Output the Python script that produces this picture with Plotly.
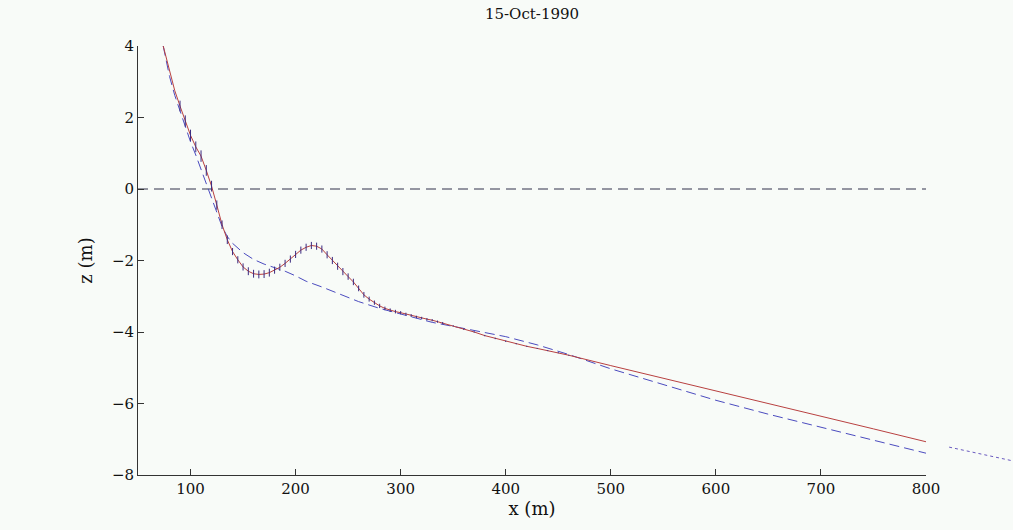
import plotly.graph_objects as go

# Measured profile (every 5 m where error bars exist)
x_meas = [74, 80, 85, 90, 95, 100, 105, 110, 115, 120, 125, 130, 135, 140, 145, 150,
          155, 160, 165, 170, 175, 180, 185, 190, 195, 200, 205, 210, 215, 220, 225,
          230, 235, 240, 245, 250, 255, 260, 265, 270, 275, 280, 285, 290, 295, 300,
          305, 310, 315, 320, 325, 330, 335, 340, 350, 360, 370, 380, 390, 400, 410,
          420, 430, 440, 450, 460]
z_meas = [4.0, 3.3, 2.75, 2.32, 1.9, 1.5, 1.18, 0.92, 0.52, 0.08, -0.45, -1.0, -1.42,
          -1.75, -1.98, -2.18, -2.3, -2.37, -2.39, -2.38, -2.34, -2.27, -2.19, -2.08,
          -1.96, -1.83, -1.71, -1.63, -1.58, -1.6, -1.68, -1.84, -2.0, -2.16, -2.31,
          -2.45, -2.6, -2.78, -2.96, -3.08, -3.18, -3.27, -3.34, -3.39, -3.43, -3.46,
          -3.5, -3.54, -3.58, -3.61, -3.64, -3.67, -3.71, -3.75, -3.83, -3.92, -4.0,
          -4.1, -4.18, -4.26, -4.33, -4.4, -4.46, -4.52, -4.58, -4.65]
z_err = [0.0, 0.0, 0.0, 0.15, 0.16, 0.16, 0.15, 0.16, 0.15, 0.15, 0.13, 0.12, 0.12,
         0.1, 0.1, 0.1, 0.11, 0.11, 0.11, 0.11, 0.11, 0.1, 0.1, 0.1, 0.1, 0.1, 0.1,
         0.1, 0.1, 0.1, 0.1, 0.1, 0.1, 0.1, 0.1, 0.09, 0.09, 0.08, 0.08, 0.07, 0.06,
         0.06, 0.05, 0.05, 0.05, 0.045, 0.04, 0.04, 0.035, 0.035, 0.03, 0.03, 0.03,
         0.03, 0.02, 0.02, 0.02, 0.02, 0.02, 0.02, 0.015, 0.015, 0.015, 0.015, 0.015,
         0.015]

# Offshore part of measured profile
x_off = [460, 500, 550, 600, 650, 700, 750, 800]
z_off = [-4.65, -4.94, -5.29, -5.64, -6.0, -6.35, -6.71, -7.07]

# Extension beyond the plotted range (dotted)
x_ext = [822, 885]
z_ext = [-7.22, -7.62]

# Equilibrium profile (dashed)
x_eq = [74, 80, 85, 90, 95, 100, 105, 110, 115, 120, 125, 130, 135, 140, 150, 160, 170,
        180, 190, 200, 210, 225, 240, 260, 280, 300, 330, 360, 400, 430, 460, 500, 550,
        600, 650, 700, 750, 800]
z_eq = [4.0, 3.15, 2.62, 2.18, 1.75, 1.32, 0.95, 0.55, 0.1, -0.3, -0.7, -1.05, -1.33,
        -1.52, -1.78, -1.97, -2.1, -2.2, -2.3, -2.43, -2.58, -2.74, -2.92, -3.15, -3.34,
        -3.5, -3.73, -3.9, -4.13, -4.36, -4.63, -5.03, -5.48, -5.91, -6.3, -6.67,
        -7.03, -7.39]

x_range = [50, 800]
y_range = [-8, 4]
x_ticks = [100, 200, 300, 400, 500, 600, 700, 800]
y_ticks = [-8, -6, -4, -2, 0, 2, 4]
sea_level = 0

FONT = "DejaVu Serif"
W, H = 1013, 530
ML, MT, MB = 138, 46, 55
plot_w = W - ML
axes_w = 926 - ML
dom = axes_w / plot_w
px_per_unit = axes_w / (x_range[1] - x_range[0])
x2_range = [x_range[0], x_range[0] + plot_w / px_per_unit]
BG = "#f8fbf8"

fig = go.Figure()

fig.add_trace(go.Scatter(x=x_range, y=[sea_level, sea_level], mode="lines",
                         line=dict(color="#30304a", width=1, dash="10px,6px"),
                         hoverinfo="skip"))
fig.add_trace(go.Scatter(x=x_eq, y=z_eq, mode="lines",
                         line=dict(color="#4b4bbf", width=1, dash="10px,5px")))
fig.add_trace(go.Scatter(x=x_meas + x_off[1:], y=z_meas + z_off[1:], mode="lines",
                         line=dict(color="#b84040", width=1)))
fig.add_trace(go.Scatter(x=x_meas, y=z_meas, mode="markers",
                         marker=dict(size=1, color="rgba(0,0,0,0)"),
                         error_y=dict(type="data", array=z_err, visible=True,
                                      color="#3a2a80", thickness=1, width=0)))
fig.add_trace(go.Scatter(x=x_ext, y=z_ext, mode="lines", xaxis="x2", yaxis="y",
                         line=dict(color="#6a5ac0", width=1, dash="dot")))

fig.update_layout(
    width=W, height=H,
    margin=dict(l=ML, r=0, t=MT, b=MB, autoexpand=False),
    paper_bgcolor=BG, plot_bgcolor="rgba(0,0,0,0)",
    showlegend=False,
    font=dict(family=FONT, size=15, color="#111"),
    title=dict(text="15-Oct-1990", x=(axes_w / 2) / plot_w, xref="paper",
               xanchor="center", y=1 - 14 / H, yref="container", yanchor="middle",
               font=dict(family=FONT, size=15, color="#111")),
    xaxis=dict(range=x_range, domain=[0, dom], tickvals=x_ticks, ticks="inside",
               ticklen=6, tickcolor="#333", showline=True, linecolor="#333",
               linewidth=1, showgrid=False, zeroline=False, automargin=False,
               title=dict(text="x (m)", standoff=4)),
    xaxis2=dict(range=x2_range, domain=[0, 1], anchor="y", showticklabels=False,
                showline=False, showgrid=False, zeroline=False, ticks="",
                automargin=False),
    yaxis=dict(range=y_range, tickvals=y_ticks, ticks="inside", ticklen=6,
               tickcolor="#333", showline=True, linecolor="#333", linewidth=1,
               showgrid=False, zeroline=False, automargin=False,
               title=dict(text="z (m)", standoff=14)),
)

fig.write_html("out.html")
